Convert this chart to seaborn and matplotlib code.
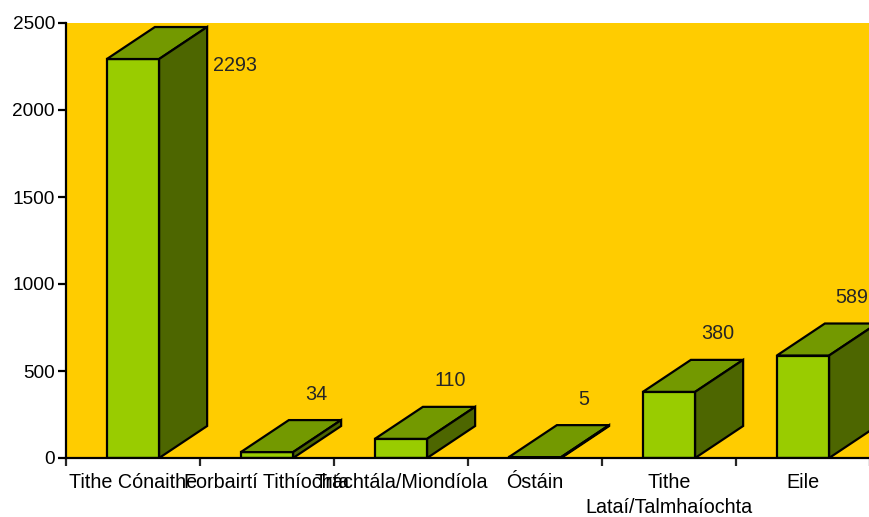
import numpy as np
import pandas as pd
import matplotlib.pyplot as plt
import seaborn as sns
from matplotlib.patches import Polygon

# data
categories = ['Tithe Cónaithe', 'Forbairtí Tithíochta', 'Tráchtála/Miondíola',
              'Óstáin', 'Tithe\nLataí/Talmhaíochta', 'Eile']
values = [2293, 34, 110, 5, 380, 589]
yticks = [0, 500, 1000, 1500, 2000, 2500]

# colours
front_col = '#99CC00'
top_col = '#739900'
side_col = '#4D6600'
bg_col = '#FFCC00'

sns.set_style('white')
plt.rcParams['font.family'] = ['Liberation Sans', 'DejaVu Sans']

df = pd.DataFrame({'cat': categories, 'val': values})

W, H = 870, 517
fig = plt.figure(figsize=(W/100, H/100), dpi=100)
ax = fig.add_axes([66/W, 59/H, 804/W, 435/H])
ax.set_facecolor(bg_col)

sns.barplot(data=df, x='cat', y='val', color=front_col, saturation=1, width=0.39,
            edgecolor='black', linewidth=1.6, ax=ax)
ax.set_xlim(-0.5, len(categories)-0.5)
ax.set_ylim(0, 2500)
ax.set(xlabel='', ylabel='')

# depth of the fake 3d boxes, in pixels -> data units
dx = 48 * (len(categories)) / 804
dy = 32 * 2500 / 435

for p, v in zip(ax.patches, values):
    x0 = p.get_x()
    w = p.get_width()
    h = p.get_height()
    top = Polygon([(x0, h), (x0+w, h), (x0+w+dx, h+dy), (x0+dx, h+dy)], closed=True,
                  facecolor=top_col, edgecolor='black', linewidth=1.6, zorder=p.get_zorder())
    side = Polygon([(x0+w, 0), (x0+w+dx, dy), (x0+w+dx, h+dy), (x0+w, h)], closed=True,
                   facecolor=side_col, edgecolor='black', linewidth=1.6, zorder=p.get_zorder())
    ax.add_patch(top)
    ax.add_patch(side)
    xc = x0 + w/2
    if h + dy > 2500 - dy:
        # no room above: put label beside the box
        ax.annotate(str(v), xy=(x0+w+dx, h), xytext=(6, -6), textcoords='offset pixels',
                    ha='left', va='center', fontsize=14.2)
    else:
        ax.annotate(str(v), xy=(xc+dx, h+dy), xytext=(1, 26), textcoords='offset pixels',
                    ha='center', va='center', fontsize=14.2)

# axes styling
for s in ['top', 'right']:
    ax.spines[s].set_visible(False)
for s in ['left', 'bottom']:
    ax.spines[s].set_color('black')
    ax.spines[s].set_linewidth(1.6)

ax.set_yticks(yticks)
ax.tick_params(axis='y', left=True, length=6, width=1.6, direction='out', pad=2,
               labelsize=13.7, colors='black')
ax.set_xticks(range(len(categories)))
ax.set_xticklabels(categories, linespacing=1.35)
ax.set_xticks(np.arange(-0.5, len(categories), 1), minor=True)
ax.tick_params(axis='x', which='major', bottom=True, length=0, pad=11, labelsize=14.2,
               colors='black')
ax.tick_params(axis='x', which='minor', bottom=True, length=6, width=1.6, direction='out')

fig.savefig('out.png', dpi=100)
